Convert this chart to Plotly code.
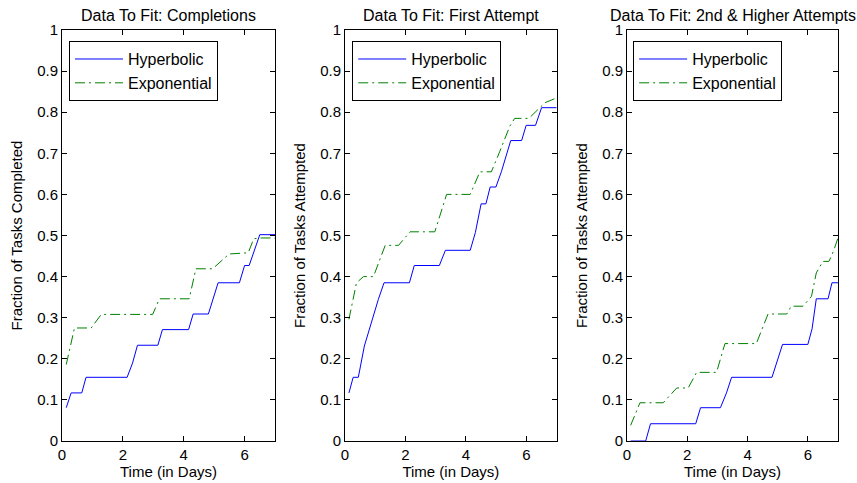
import plotly.graph_objects as go

# ---------------- data ----------------
titles = ["Data To Fit: Completions", "Data To Fit: First Attempt", "Data To Fit: 2nd & Higher Attempts"]
ylabels = ["Fraction of Tasks Completed", "Fraction of Tasks Attempted", "Fraction of Tasks Attempted"]
xlabel = "Time (in Days)"
series_names = ["Hyperbolic", "Exponential"]

p1_hyp_x = [0.14, 0.30, 0.65, 0.79, 2.14, 2.32, 2.48, 3.15, 3.30, 4.16, 4.31, 4.81, 5.13, 5.83, 6.00, 6.15, 6.50, 7.0]
p1_hyp_y = [0.081, 0.117, 0.117, 0.155, 0.155, 0.19, 0.233, 0.233, 0.271, 0.271, 0.309, 0.309, 0.385, 0.385, 0.427, 0.427, 0.502, 0.502]
p1_exp_x = [0.14, 0.25, 0.41, 0.96, 1.29, 2.98, 3.20, 4.18, 4.40, 4.95, 5.49, 6.12, 6.30, 6.50, 7.0]
p1_exp_y = [0.186, 0.223, 0.275, 0.275, 0.308, 0.308, 0.346, 0.346, 0.419, 0.419, 0.455, 0.458, 0.492, 0.494, 0.494]

p2_hyp_x = [0.13, 0.27, 0.44, 0.64, 1.10, 1.29, 2.13, 2.29, 3.12, 3.32, 4.14, 4.31, 4.50, 4.66, 4.80, 4.99, 5.17, 5.48, 5.84, 5.99, 6.30, 6.50, 7.0]
p2_hyp_y = [0.117, 0.155, 0.155, 0.231, 0.344, 0.385, 0.385, 0.427, 0.427, 0.464, 0.464, 0.507, 0.577, 0.577, 0.618, 0.618, 0.655, 0.731, 0.731, 0.768, 0.768, 0.811, 0.811]
p2_exp_x = [0.13, 0.22, 0.38, 0.61, 0.94, 1.33, 1.77, 2.15, 2.97, 3.36, 4.14, 4.46, 4.84, 5.12, 5.45, 5.61, 6.08, 6.61, 7.0]
p2_exp_y = [0.296, 0.328, 0.385, 0.40, 0.40, 0.476, 0.476, 0.509, 0.509, 0.60, 0.60, 0.655, 0.655, 0.705, 0.766, 0.785, 0.785, 0.823, 0.835]

p3_hyp_x = [0.12, 0.62, 0.78, 2.28, 2.44, 3.10, 3.30, 3.47, 4.81, 5.16, 6.00, 6.14, 6.28, 6.67, 6.80, 7.0]
p3_hyp_y = [0.0, 0.0, 0.042, 0.042, 0.081, 0.081, 0.117, 0.155, 0.155, 0.235, 0.235, 0.273, 0.346, 0.346, 0.385, 0.385]
p3_exp_x = [0.12, 0.43, 1.20, 1.65, 2.03, 2.31, 2.97, 3.25, 4.29, 4.68, 5.30, 5.45, 5.84, 6.12, 6.28, 6.50, 6.70, 6.85, 7.0]
p3_exp_y = [0.038, 0.093, 0.093, 0.129, 0.129, 0.167, 0.167, 0.237, 0.237, 0.309, 0.309, 0.328, 0.328, 0.352, 0.409, 0.437, 0.437, 0.462, 0.494]

x_ticks = [0, 2, 4, 6]
y_ticks = [0, 0.1, 0.2, 0.3, 0.4, 0.5, 0.6, 0.7, 0.8, 0.9, 1]
y_ticklabels = ["0", "0.1", "0.2", "0.3", "0.4", "0.5", "0.6", "0.7", "0.8", "0.9", "1"]

panels = [
    (p1_hyp_x, p1_hyp_y, p1_exp_x, p1_exp_y),
    (p2_hyp_x, p2_hyp_y, p2_exp_x, p2_exp_y),
    (p3_hyp_x, p3_hyp_y, p3_exp_x, p3_exp_y),
]

# ---------------- styling ----------------
FONT = "Liberation Sans, Arial, sans-serif"
BLUE = "#0000FF"
GREEN = "#008000"
domains = [[0.0, 0.2745], [0.3647, 0.6375], [0.7281, 1.0]]
legend_x = [0.009, 0.374, 0.736]

fig = go.Figure()
for i, (hx, hy, ex, ey) in enumerate(panels):
    n = "" if i == 0 else str(i + 1)
    leg = "legend" + n
    fig.add_trace(go.Scatter(x=hx, y=hy, mode="lines", name=series_names[0],
                             line=dict(color=BLUE, width=1),
                             xaxis="x" + n, yaxis="y" + n, legend=leg))
    fig.add_trace(go.Scatter(x=ex, y=ey, mode="lines", name=series_names[1],
                             line=dict(color=GREEN, width=1, dash="10px,4px,2px,4px"),
                             xaxis="x" + n, yaxis="y" + n, legend=leg))

layout = dict(
    width=857, height=483,
    margin=dict(l=62, r=19, t=30, b=42),
    paper_bgcolor="white", plot_bgcolor="white",
    font=dict(family=FONT, size=15, color="black"),
    annotations=[],
)
axis_common = dict(showline=True, linecolor="black", linewidth=1, mirror="ticks",
                   ticks="inside", ticklen=5, tickcolor="black", showgrid=False,
                   zeroline=False, automargin=False,
                   tickfont=dict(size=15, family=FONT, color="black"))
for i in range(3):
    n = "" if i == 0 else str(i + 1)
    layout["xaxis" + n] = dict(axis_common, domain=domains[i], range=[0, 7],
                               tickvals=x_ticks, anchor="y" + n,
                               title=dict(text=xlabel, font=dict(size=15), standoff=2))
    layout["yaxis" + n] = dict(axis_common, domain=[0, 1], range=[0, 1],
                               tickvals=y_ticks, ticktext=y_ticklabels, anchor="x" + n,
                               title=dict(text=ylabels[i], font=dict(size=15), standoff=10))
    layout["legend" + n] = dict(x=legend_x[i], y=0.973, xanchor="left", yanchor="top",
                                bgcolor="white", bordercolor="black", borderwidth=1,
                                font=dict(size=16, family=FONT, color="black"),
                                tracegroupgap=0, itemwidth=48)
    layout["annotations"].append(dict(
        text=titles[i], xref="paper", yref="paper",
        x=(domains[i][0] + domains[i][1]) / 2, y=1.0, xanchor="center", yanchor="bottom",
        yshift=4, showarrow=False, font=dict(size=16, family=FONT, color="black")))

fig.update_layout(**layout)
fig.write_html("out.html")
